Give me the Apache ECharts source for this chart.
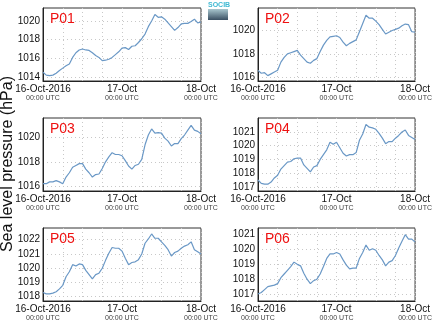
<!DOCTYPE html>
<html><head><meta charset="utf-8">
<script src="https://cdn.jsdelivr.net/npm/echarts@6/dist/echarts.min.js"></script>
<style>html,body{margin:0;padding:0;background:#fff}#c{width:435px;height:327px}</style>
</head><body><div id="c"></div>
<script>
// hours since 16-Oct-2016 00:00 UTC
const hours = [0,1,2,3,4,5,6,7,8,9,10,11,12,13,14,15,16,17,18,19,20,21,22,23,24,25,26,27,28,29,30,31,32,33,34,35,36,37,38,39,40,41,42,43,44,45,46,47,48];
const stationNames = ['P01','P02','P03','P04','P05','P06'];
const p01 = [1014.5,1014.2,1014.15,1014.2,1014.4,1014.7,1014.95,1015.2,1015.4,1016.1,1016.6,1016.9,1017.0,1016.9,1016.85,1016.6,1016.3,1016.1,1015.75,1015.8,1015.9,1016.1,1016.4,1016.7,1017.1,1017.15,1016.95,1017.3,1017.35,1017.7,1018.1,1018.6,1019.4,1020.0,1020.7,1020.4,1020.45,1020.2,1019.8,1019.4,1019.0,1019.3,1019.7,1019.75,1019.75,1019.95,1020.2,1019.8,1019.9];
const p02 = [1016.6,1016.35,1016.4,1016.15,1016.3,1016.45,1016.6,1017.3,1017.7,1018.0,1018.1,1018.2,1018.3,1017.9,1017.6,1017.3,1017.2,1017.45,1017.6,1018.2,1018.75,1019.15,1019.45,1019.5,1019.55,1019.4,1019.0,1018.7,1018.9,1019.05,1019.2,1019.9,1020.6,1021.3,1021.05,1021.05,1020.8,1020.5,1020.1,1019.7,1019.85,1020.0,1020.1,1020.2,1020.4,1020.55,1020.5,1019.9,1019.85];
const p03 = [1016.2,1016.2,1016.35,1016.35,1016.45,1016.35,1016.2,1016.75,1017.1,1017.55,1017.7,1017.85,1017.85,1017.4,1017.1,1016.75,1016.95,1017.0,1017.45,1018.0,1018.4,1018.75,1018.6,1018.6,1018.5,1018.1,1017.65,1017.4,1017.7,1017.8,1018.2,1019.4,1020.2,1020.7,1020.35,1020.4,1020.35,1019.95,1019.7,1019.3,1019.5,1019.5,1019.9,1020.2,1020.6,1021.0,1020.6,1020.5,1020.3];
const p04 = [1017.5,1017.25,1017.2,1017.2,1017.35,1017.65,1017.85,1018.3,1018.55,1018.8,1018.85,1019.05,1019.1,1019.1,1018.6,1018.35,1018.1,1018.45,1018.55,1019.0,1019.35,1019.7,1020.25,1020.1,1020.25,1019.85,1019.45,1019.25,1019.35,1019.35,1019.5,1020.4,1020.85,1021.55,1021.35,1021.3,1021.2,1020.9,1020.55,1020.15,1020.3,1020.3,1020.55,1020.75,1021.0,1021.15,1020.75,1020.6,1020.45];
const p05 = [1018.3,1018.2,1018.2,1018.25,1018.35,1018.55,1018.8,1019.4,1019.75,1020.25,1020.15,1020.3,1020.25,1019.85,1019.55,1019.25,1019.55,1019.65,1020.0,1020.55,1021.05,1021.45,1021.4,1021.4,1021.2,1020.7,1020.25,1020.4,1020.45,1020.6,1021.0,1021.75,1022.05,1022.4,1022.1,1022.1,1021.85,1021.6,1021.3,1020.85,1021.1,1021.2,1021.4,1021.55,1021.65,1021.85,1021.3,1021.15,1021.0];
const p06 = [1017.0,1017.1,1017.3,1017.5,1017.55,1017.6,1017.7,1018.1,1018.35,1018.6,1018.85,1019.15,1019.0,1018.9,1018.4,1018.0,1017.7,1017.9,1018.0,1018.35,1018.85,1019.4,1019.7,1019.7,1019.8,1019.7,1019.3,1018.95,1018.7,1018.75,1018.75,1019.4,1019.8,1020.3,1019.95,1020.05,1019.95,1019.6,1019.3,1018.9,1019.15,1019.25,1019.6,1020.1,1020.55,1021.0,1020.7,1020.7,1020.5];
const seriesValues = [p01,p02,p03,p04,p05,p06];
// y tick labels per panel
const yTicks = [
  [1014,1016,1018,1020],
  [1016,1018,1020],
  [1016,1018,1020],
  [1017,1018,1019,1020,1021],
  [1018,1019,1020,1021,1022],
  [1017,1018,1019,1020,1021]
];
const yMin = [1013.57,1015.69,1015.6,1016.7,1017.7,1016.53];
const yMax = [1021.4,1021.92,1021.6,1022.02,1022.82,1021.45];
// x tick labels
const xLabelHours = [0,24,48];
const xLabelDates = ['16-Oct-2016','17-Oct','18-Oct'];
const xLabelTimes = ['00:00 UTC','00:00 UTC','00:00 UTC'];
const yAxisTitle = 'Sea level pressure (hPa)';
const logoText = 'SOCIB';

const lefts = [43,258], tops = [8,118,228], W = 158, H = 73;
const grids=[], xAxes=[], yAxes=[], series=[], titles=[];
for (let i=0;i<6;i++){
  const col=i%2, row=Math.floor(i/2);
  grids.push({left:lefts[col], top:tops[row], width:W, height:H, show:true, borderColor:'#333', borderWidth:1, backgroundColor:'transparent'});
  xAxes.push({type:'value', gridIndex:i, min:0, max:48, interval:6,
    axisLine:{show:true,lineStyle:{color:'#222',width:1}}, axisTick:{show:false},
    splitLine:{show:true,lineStyle:{color:'#c8c8c8',type:[1,3],width:1}},
    axisLabel:{show:true, margin:3, customValues:xLabelHours,
      formatter:function(v){const k=xLabelHours.indexOf(v); if(k<0) return ''; return '{a|'+xLabelDates[k]+'}\n{b|'+xLabelTimes[k]+'}';},
      rich:{a:{fontSize:10,lineHeight:10,color:'#111',fontFamily:'Liberation Sans'},b:{fontSize:7,lineHeight:9,color:'#444',fontFamily:'Liberation Sans'}}}
  });
  yAxes.push({type:'value', gridIndex:i, min:yMin[i], max:yMax[i],
    axisLine:{show:true,lineStyle:{color:'#222',width:1}},
    axisTick:{show:false, customValues:yTicks[i]},
    splitLine:{show:true,lineStyle:{color:'#c8c8c8',type:[1,3],width:1}},
    axisLabel:{show:true, margin:3, customValues:yTicks[i], fontSize:10, color:'#111', fontFamily:'Liberation Sans',
      formatter:function(v){return String(Math.round(v));}}
  });
  series.push({type:'line', xAxisIndex:i, yAxisIndex:i, showSymbol:false, symbol:'none', smooth:false,
    lineStyle:{color:'#6a98c6',width:1.2},
    data:hours.map((h,k)=>[h,seriesValues[i][k]])});
  titles.push({text:stationNames[i], left:lefts[col]+2, top:tops[row]-1,
    textStyle:{color:'#ee1111',fontSize:14,fontWeight:'normal',fontFamily:'Liberation Sans'}});
}
const chart = echarts.init(document.getElementById('c'),null,{renderer:'canvas'});
chart.setOption({
  animation:false,
  title:titles,
  grid:grids, xAxis:xAxes, yAxis:yAxes, series:series,
  graphic:[
    {type:'text', left:0, top:76, rotation:Math.PI/2, style:{text:yAxisTitle, fontSize:16, fill:'#111', fontFamily:'Liberation Sans'}},
    {type:'rect', shape:{x:208,y:9,width:20,height:11}, style:{fill:{type:'linear',x:0,y:0,x2:0,y2:1,colorStops:[{offset:0,color:'#a9c7cf'},{offset:1,color:'#3a4f62'}]}}},
    {type:'text', x:208, y:2, style:{text:logoText, fontSize:7, fill:'#3fb9d3', fontFamily:'Liberation Sans', fontWeight:'bold'}}
  ]
});
</script></body></html>
